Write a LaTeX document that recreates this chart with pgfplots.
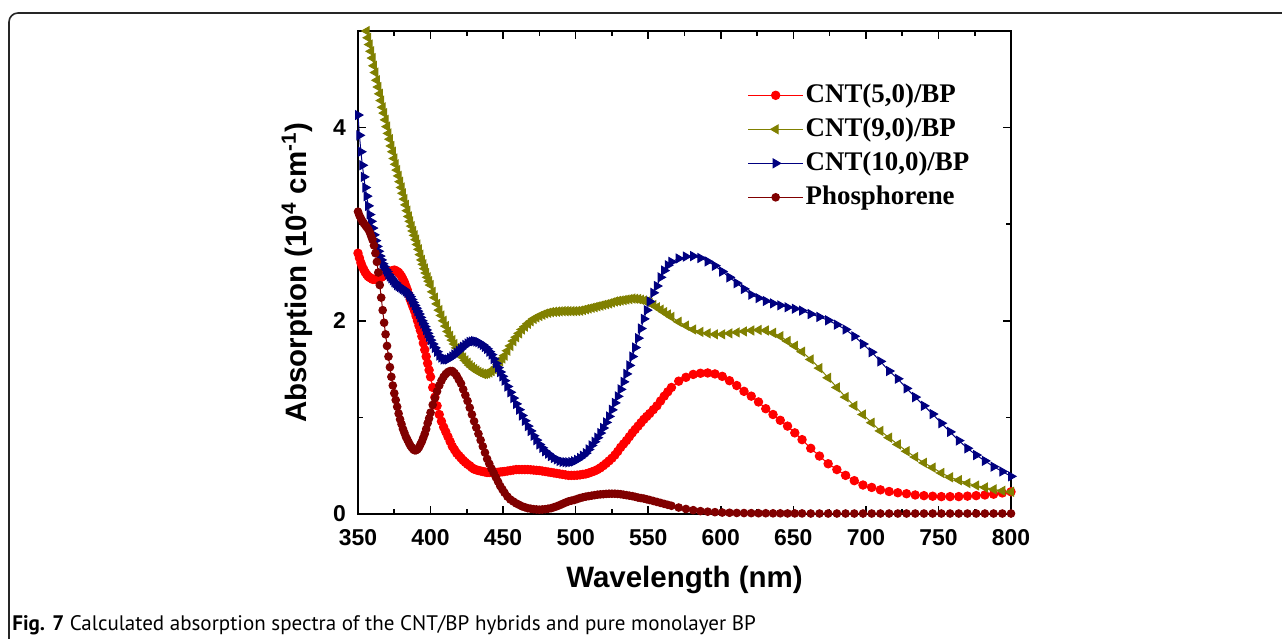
\documentclass[border=0pt]{standalone}
\usepackage{fontspec}
\setmainfont{Liberation Sans}
\newfontfamily\serifb{Liberation Serif}
\newfontfamily\capfont{PT Sans}
\usepackage{pgfplots}
\usepackage{pgfplotstable}
\pgfplotsset{compat=1.18}
\definecolor{cRed}{RGB}{255,0,0}
\definecolor{cOlive}{RGB}{128,128,0}
\definecolor{cNavy}{RGB}{0,0,128}
\definecolor{cMaroon}{RGB}{128,0,0}

\pgfplotstableread{
x r o b p
350 2.70 5.45 4.13 3.13
351 2.65 5.37 3.92 3.09
352 2.60 5.30 3.75 3.06
353 2.56 5.22 3.61 3.03
354 2.53 5.15 3.49 3.01
355 2.50 5.07 3.38 2.99
356 2.48 5.00 3.29 2.97
357 2.46 4.93 3.19 2.95
358 2.45 4.86 3.10 2.92
359 2.44 4.79 3.03 2.88
360 2.43 4.72 2.96 2.84
361 2.43 4.64 2.89 2.78
362 2.43 4.57 2.83 2.70
363 2.435 4.49 2.77 2.61
364 2.44 4.42 2.72 2.50
365 2.445 4.35 2.67 2.37
366 2.45 4.28 2.63 2.24
367 2.46 4.21 2.59 2.11
368 2.47 4.15 2.56 1.98
369 2.48 4.08 2.53 1.86
370 2.49 4.01 2.51 1.74
371 2.50 3.94 2.48 1.63
372 2.51 3.88 2.46 1.52
373 2.515 3.81 2.44 1.42
374 2.52 3.75 2.42 1.33
375 2.525 3.68 2.40 1.25
376 2.52 3.62 2.39 1.18
377 2.51 3.56 2.37 1.11
378 2.50 3.50 2.36 1.04
379 2.48 3.44 2.35 0.98
380 2.46 3.38 2.34 0.93
381 2.43 3.32 2.33 0.88
382 2.40 3.26 2.32 0.84
383 2.36 3.20 2.305 0.80
384 2.32 3.14 2.29 0.77
385 2.27 3.08 2.27 0.74
386 2.22 3.03 2.25 0.71
387 2.18 2.98 2.22 0.69
388 2.14 2.93 2.19 0.67
389 2.10 2.885 2.16 0.66
390 2.05 2.84 2.13 0.66
391 2.00 2.79 2.10 0.67
392 1.95 2.74 2.07 0.69
393 1.90 2.685 2.035 0.72
394 1.84 2.63 2.00 0.75
395 1.77 2.585 1.97 0.79
396 1.70 2.54 1.94 0.83
397 1.63 2.495 1.905 0.88
398 1.56 2.45 1.87 0.94
399 1.49 2.41 1.835 0.99
400 1.42 2.37 1.80 1.05
401.5 1.31 2.30 1.76 1.13
403 1.21 2.24 1.72 1.20
404.5 1.12 2.175 1.68 1.27
406 1.03 2.11 1.64 1.33
407.5 0.96 2.055 1.62 1.38
409 0.90 2.00 1.60 1.42
410.5 0.85 1.945 1.60 1.45
412 0.80 1.89 1.60 1.47
413.5 0.75 1.845 1.615 1.48
415 0.70 1.80 1.63 1.48
416.5 0.665 1.76 1.65 1.46
418 0.63 1.72 1.67 1.43
419.5 0.605 1.685 1.69 1.39
421 0.58 1.65 1.71 1.35
422.5 0.555 1.62 1.73 1.29
424 0.535 1.59 1.75 1.23
425.5 0.515 1.565 1.765 1.17
427 0.50 1.54 1.78 1.10
428.5 0.48 1.52 1.785 1.03
430 0.465 1.50 1.79 0.96
431.5 0.457 1.485 1.785 0.895
433 0.45 1.47 1.78 0.83
434.5 0.445 1.46 1.765 0.765
436 0.44 1.45 1.75 0.70
437.5 0.435 1.45 1.73 0.635
439 0.43 1.455 1.71 0.57
440.5 0.43 1.465 1.68 0.52
442 0.43 1.48 1.65 0.47
443.5 0.43 1.50 1.605 0.425
445 0.43 1.52 1.56 0.38
446.5 0.432 1.55 1.515 0.335
448 0.435 1.58 1.47 0.29
449.5 0.437 1.61 1.425 0.255
451 0.44 1.64 1.38 0.22
453 0.445 1.69 1.32 0.18
455 0.45 1.74 1.26 0.15
457 0.455 1.79 1.20 0.13
459 0.46 1.83 1.14 0.11
461 0.46 1.87 1.08 0.095
463 0.46 1.91 1.02 0.08
465 0.46 1.94 0.965 0.07
467 0.46 1.97 0.91 0.06
469 0.458 1.995 0.86 0.055
471 0.455 2.02 0.81 0.05
473 0.452 2.035 0.765 0.047
475 0.45 2.05 0.72 0.045
477 0.445 2.063 0.685 0.047
479 0.44 2.075 0.65 0.05
481 0.435 2.083 0.625 0.055
483 0.43 2.09 0.60 0.06
485 0.425 2.093 0.58 0.07
487 0.42 2.095 0.565 0.08
489 0.415 2.098 0.55 0.092
491 0.41 2.10 0.54 0.105
493 0.405 2.10 0.537 0.118
495 0.40 2.10 0.535 0.13
497 0.40 2.10 0.538 0.138
499 0.40 2.10 0.545 0.145
501 0.402 2.102 0.56 0.155
503 0.405 2.105 0.58 0.165
505 0.41 2.112 0.603 0.173
507 0.415 2.12 0.63 0.18
509 0.424 2.127 0.668 0.185
511 0.435 2.135 0.71 0.19
513 0.446 2.142 0.748 0.195
515 0.46 2.15 0.79 0.20
517 0.478 2.157 0.838 0.203
519 0.50 2.165 0.89 0.205
521 0.524 2.172 0.948 0.208
523 0.55 2.18 1.01 0.21
525 0.578 2.19 1.078 0.21
527 0.61 2.20 1.15 0.21
529 0.648 2.205 1.218 0.208
531 0.69 2.21 1.29 0.205
533 0.725 2.215 1.368 0.20
535 0.76 2.22 1.45 0.195
537 0.80 2.225 1.538 0.19
539 0.84 2.23 1.63 0.185
541 0.875 2.228 1.723 0.178
543 0.91 2.225 1.82 0.17
545 0.945 2.218 1.92 0.165
547 0.98 2.21 2.02 0.16
549 1.01 2.198 2.11 0.152
551 1.04 2.185 2.20 0.145
553.5 1.08 2.163 2.29 0.135
556 1.12 2.14 2.36 0.125
558.5 1.17 2.115 2.45 0.115
561 1.22 2.09 2.52 0.105
563.5 1.265 2.065 2.575 0.095
566 1.31 2.04 2.61 0.085
571 1.375 1.99 2.645 0.067
576 1.415 1.95 2.665 0.052
581 1.445 1.91 2.67 0.04
586 1.457 1.885 2.65 0.03
591 1.46 1.87 2.615 0.024
596 1.45 1.86 2.57 0.019
601 1.425 1.86 2.51 0.015
606 1.38 1.87 2.45 0.013
611 1.33 1.88 2.39 0.011
616 1.27 1.89 2.33 0.01
621 1.22 1.90 2.27 0.009
626 1.16 1.905 2.235 0.008
631 1.09 1.90 2.205 0.008
636 1.03 1.875 2.18 0.007
641 0.97 1.84 2.16 0.007
646 0.91 1.79 2.14 0.006
651 0.84 1.74 2.125 0.006
656 0.77 1.68 2.105 0.006
662 0.68 1.60 2.07 0.005
668 0.60 1.51 2.04 0.005
674 0.52 1.41 2.005 0.005
680 0.46 1.31 1.96 0.005
686 0.40 1.21 1.91 0.005
692 0.345 1.12 1.84 0.005
698 0.30 1.03 1.76 0.005
704 0.275 0.945 1.675 0.005
710 0.25 0.86 1.58 0.005
716 0.233 0.79 1.48 0.005
722 0.22 0.72 1.40 0.005
728 0.21 0.65 1.30 0.005
734 0.197 0.59 1.21 0.005
740 0.19 0.53 1.12 0.005
746 0.184 0.48 1.035 0.005
752 0.18 0.425 0.94 0.005
758 0.18 0.38 0.85 0.005
764 0.18 0.35 0.76 0.005
770 0.185 0.32 0.68 0.005
776 0.19 0.295 0.61 0.005
782 0.197 0.275 0.55 0.005
788 0.205 0.255 0.49 0.005
794 0.218 0.24 0.44 0.005
800 0.23 0.23 0.39 0.005
}\data

\begin{document}
\begin{tikzpicture}
\useasboundingbox (-179bp,-62.5bp) rectangle (462bp,257bp);
\begin{axis}[
  at={(0bp,0bp)}, anchor=south west,
  scale only axis, width=326.5bp, height=241.5bp,
  xmin=350, xmax=800, ymin=0, ymax=5,
  xtick={350,400,...,800}, ytick={0,2,4},
  minor xtick={375,425,...,775}, minor ytick={1,3},
  tick align=inside, major tick length=4bp, minor tick length=2.5bp,
  axis line style={line width=0.9bp},
  every tick/.style={black, line width=0.8bp},
  /pgf/number format/assume math mode=true,
  tick label style={font=\bfseries\fontsize{11.5}{13}\selectfont},
  xticklabel style={yshift=-4bp},
  yticklabel style={xshift=-2.5bp},
  label style={font=\bfseries\fontsize{14.8}{17}\selectfont},
  xlabel={Wavelength (nm)},
  ylabel={Absorption (10\textsuperscript{4} cm\textsuperscript{-1})},
  xlabel style={at={(axis description cs:0.5,-0.1366)}, anchor=center},
  ylabel style={at={(axis description cs:-0.0934,0.5)}, anchor=center},
  legend cell align=left,
  legend style={at={(0.587,0.907)}, anchor=north west, draw=none, fill=none,
    font=\serifb\bfseries\fontsize{13.5}{16}\selectfont,
    nodes={inner sep=1bp, text height=10bp, text depth=3bp}, row sep=2bp},
  legend image code/.code={\draw[mark repeat=2,mark phase=2,#1] plot coordinates {(0bp,0bp) (13.75bp,0bp) (27.5bp,0bp)};},
]
\addplot[color=cRed, line width=0.5bp, mark=*, mark size=2.1bp] table[x=x,y=r]{\data};
\addlegendentry{CNT(5,0)/BP}
\addplot[color=cOlive, line width=0.5bp, mark=triangle*, mark size=2.5bp, mark options={rotate=90}] table[x=x,y=o]{\data};
\addlegendentry{CNT(9,0)/BP}
\addplot[color=cNavy, line width=0.5bp, mark=triangle*, mark size=2.5bp, mark options={rotate=-90}] table[x=x,y=b]{\data};
\addlegendentry{CNT(10,0)/BP}
\addplot[color=cMaroon, line width=0.5bp, mark=*, mark size=1.9bp] table[x=x,y=p]{\data};
\addlegendentry{Phosphorene}
\end{axis}
\begin{scope}[shift={(-179bp,257bp)}, x=0.5bp, y=-0.5bp]
\draw[line width=0.8bp, black!85, rounded corners=4.5bp] (9,660) -- (9,13) -- (1300,13);
\node[anchor=base west, inner sep=0, font=\capfont\fontsize{10.55}{12}\selectfont] at (12,631) {\textbf{Fig. 7} Calculated absorption spectra of the CNT/BP hybrids and pure monolayer BP};
\end{scope}
\end{tikzpicture}
\end{document}
